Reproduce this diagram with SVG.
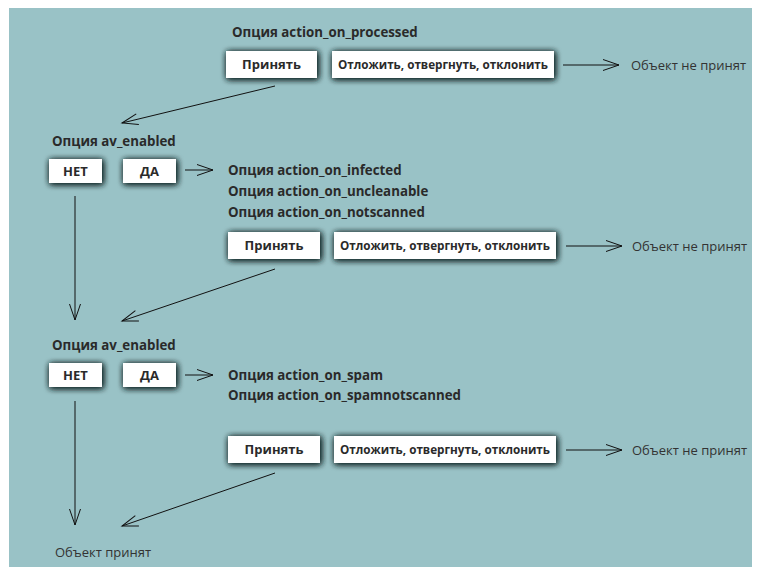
<svg xmlns="http://www.w3.org/2000/svg" width="759" height="569" viewBox="0 0 759 569">
<style>
.lbl{font-family:"Open Sans","DejaVu Sans",sans-serif;font-size:13.3px;font-weight:bold;fill:#2a2a2a}
.btn{font-family:"Open Sans","DejaVu Sans",sans-serif;font-size:11.7px;font-weight:bold;fill:#2a2a2a;text-anchor:middle}
.big{font-size:13px}
.res{font-family:"Open Sans","DejaVu Sans",sans-serif;font-size:13px;fill:#333}
.box{fill:#fff;filter:url(#sh)}
.ln{stroke:#111;stroke-width:1;fill:none;marker-end:url(#ah)}
</style>
<defs>
<filter id="sh" x="-30%" y="-60%" width="160%" height="220%">
<feGaussianBlur in="SourceAlpha" stdDeviation="3"/>
<feOffset dx="1" dy="1" result="b"/>
<feFlood flood-color="#1a2a2a"/>
<feComposite in2="b" operator="in" result="s"/>
<feMerge><feMergeNode in="s"/><feMergeNode in="s"/><feMergeNode in="SourceGraphic"/></feMerge>
</filter>
<marker id="ah" markerUnits="userSpaceOnUse" markerWidth="20" markerHeight="14" viewBox="-17 -7 18 14" refX="0" refY="0" orient="auto">
<path d="M-16,-5.5 L0,0 L-16,5.5" fill="none" stroke="#111" stroke-width="1"/>
</marker>
</defs>
<rect x="9" y="8" width="743" height="559" fill="#99c2c6"/>
<g id="connectors">
<line class="ln" x1="563" y1="65" x2="619" y2="65"/>
<line class="ln" x1="275" y1="86" x2="122" y2="123"/>
<line class="ln" x1="185" y1="170" x2="213" y2="170"/>
<line class="ln" x1="566" y1="246" x2="622" y2="246"/>
<line class="ln" x1="75" y1="196" x2="75" y2="320"/>
<line class="ln" x1="275" y1="269" x2="122" y2="321"/>
<line class="ln" x1="185" y1="375" x2="213" y2="375"/>
<line class="ln" x1="566" y1="450" x2="622" y2="450"/>
<line class="ln" x1="75" y1="401" x2="75" y2="525"/>
<line class="ln" x1="275" y1="473" x2="122" y2="526"/>
</g>
<g id="title1"><text class="lbl" x="232" y="37">Опция action_on_processed</text></g>
<g id="accept1"><rect class="box" x="226" y="51" width="91" height="27"/><text class="btn big" x="271.5" y="69">Принять</text></g>
<g id="reject1"><rect class="box" x="332" y="51" width="222" height="27"/><text class="btn" x="443" y="69">Отложить, отвергнуть, отклонить</text></g>
<g id="notaccepted1"><text class="res" x="631" y="70">Объект не принят</text></g>

<g id="av1"><text class="lbl" x="52" y="146">Опция av_enabled</text></g>
<g id="no1"><rect class="box" x="49" y="159" width="53" height="24"/><text class="btn big" x="75.5" y="176">НЕТ</text></g>
<g id="yes1"><rect class="box" x="123" y="159" width="53" height="24"/><text class="btn big" x="149.5" y="176">ДА</text></g>
<g id="opts1">
<text class="lbl" x="228" y="175">Опция action_on_infected</text>
<text class="lbl" x="228" y="196">Опция action_on_uncleanable</text>
<text class="lbl" x="228" y="217">Опция action_on_notscanned</text>
</g>
<g id="accept2"><rect class="box" x="228" y="232" width="92" height="27"/><text class="btn big" x="274" y="250">Принять</text></g>
<g id="reject2"><rect class="box" x="334" y="232" width="222" height="27"/><text class="btn" x="445" y="250">Отложить, отвергнуть, отклонить</text></g>
<g id="notaccepted2"><text class="res" x="632" y="251">Объект не принят</text></g>

<g id="av2"><text class="lbl" x="52" y="350">Опция av_enabled</text></g>
<g id="no2"><rect class="box" x="49" y="363" width="53" height="24"/><text class="btn big" x="75.5" y="380">НЕТ</text></g>
<g id="yes2"><rect class="box" x="123" y="363" width="53" height="24"/><text class="btn big" x="149.5" y="380">ДА</text></g>
<g id="opts2">
<text class="lbl" x="228" y="380">Опция action_on_spam</text>
<text class="lbl" x="228" y="400">Опция action_on_spamnotscanned</text>
</g>
<g id="accept3"><rect class="box" x="228" y="436" width="92" height="27"/><text class="btn big" x="274" y="454">Принять</text></g>
<g id="reject3"><rect class="box" x="334" y="436" width="222" height="27"/><text class="btn" x="445" y="454">Отложить, отвергнуть, отклонить</text></g>
<g id="notaccepted3"><text class="res" x="632" y="455">Объект не принят</text></g>
<g id="accepted"><text class="res" x="55" y="557">Объект принят</text></g>
</svg>
